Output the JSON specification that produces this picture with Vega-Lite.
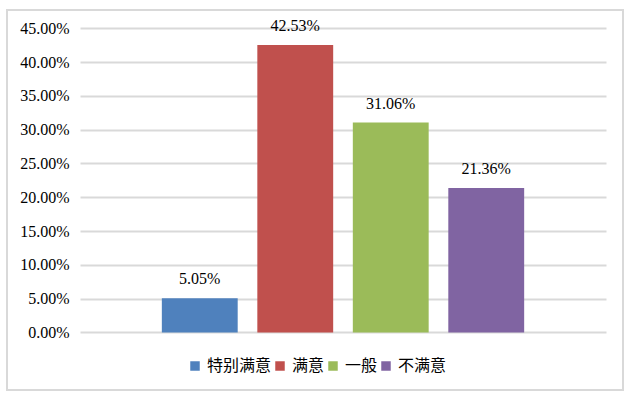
{
  "$schema": "https://vega.github.io/schema/vega-lite/v6.json",
  "autosize": {"type": "none"},
  "width": 616,
  "height": 380,
  "padding": {"left": 7, "top": 10, "right": 16, "bottom": 9},
  "background": "white",
  "config": {"view": {"stroke": "#D9D9D9", "strokeWidth": 2}},
  "data": {
    "values": [
      {"category": "特别满意", "value": 0.0505},
      {"category": "满意", "value": 0.4253},
      {"category": "一般", "value": 0.3106},
      {"category": "不满意", "value": 0.2136}
    ]
  },
  "encoding": {
    "x": {
      "field": "category",
      "type": "nominal",
      "sort": ["特别满意", "满意", "一般", "不满意"],
      "scale": {"range": [73, 599], "paddingInner": 0.2056, "paddingOuter": 0.857},
      "axis": null
    },
    "y": {
      "field": "value",
      "type": "quantitative",
      "scale": {"domain": [-0.08506, 0.47707], "nice": false, "zero": false},
      "axis": {
        "values": [0, 0.05, 0.1, 0.15, 0.2, 0.25, 0.3, 0.35, 0.4, 0.45],
        "format": ".2%",
        "offset": -73,
        "domain": false,
        "ticks": false,
        "labelPadding": 11,
        "labelFont": "Liberation Serif",
        "labelFontSize": 16,
        "labelColor": "#000000",
        "gridColor": "#D9D9D9",
        "gridWidth": 2,
        "title": null
      }
    }
  },
  "layer": [
    {
      "mark": {"type": "bar"},
      "encoding": {
        "y2": {"datum": 0},
        "color": {
          "field": "category",
          "type": "nominal",
          "scale": {
            "domain": ["特别满意", "满意", "一般", "不满意"],
            "range": ["#4F81BD", "#C0504D", "#9BBB59", "#8064A2"]
          },
          "legend": {
            "orient": "none",
            "legendX": 180,
            "legendY": 348,
            "direction": "horizontal",
            "title": null,
            "symbolType": "square",
            "symbolSize": 90,
            "symbolStrokeWidth": 0,
            "symbolOpacity": 1,
            "labelFont": "Noto Sans CJK SC",
            "labelFontSize": 16,
            "labelColor": "#000000",
            "labelOffset": 4,
            "columnPadding": 0
          }
        }
      }
    },
    {
      "mark": {
        "type": "text",
        "baseline": "alphabetic",
        "dy": -14,
        "font": "Liberation Serif",
        "fontSize": 16,
        "color": "#000000"
      },
      "encoding": {
        "text": {"field": "value", "type": "quantitative", "format": ".2%"}
      }
    }
  ]
}
